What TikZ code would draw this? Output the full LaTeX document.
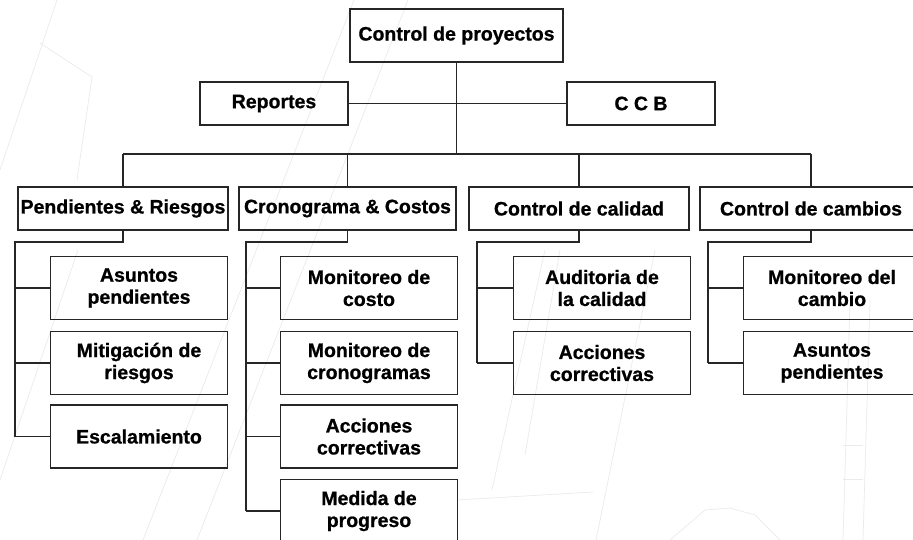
\documentclass[tikz,border=0pt]{standalone}
\usepackage{fontspec}
\setmainfont{Liberation Sans}[BoldFeatures={FakeBold=0.8}]
\usepackage{tikz}
\usetikzlibrary{calc, positioning}

\tikzset{
  box/.style={draw=black!85, line width=1.5pt, inner sep=0pt,
    align=center, font=\fontsize{19.5}{22}\selectfont\bfseries},
  topbox/.style={box, minimum width=148pt, minimum height=43pt},
  catbox/.style={box, minimum height=43pt},
  leafbox/.style={box, minimum width=177pt, minimum height=63pt},
  link/.style={draw=black!85, line width=1.5pt},
  faint/.style={draw=black!8, line width=0.7pt}
}

\begin{document}
\begin{tikzpicture}[x=1pt, y=-1pt]
    \useasboundingbox (0,0) rectangle (913,540);
    \fill[white] (0,0) rectangle (913,540);

    % faint drawing behind the chart
    \draw[faint] (0,170) -- (57,0);
    \draw[faint] (40,43) -- (92,77) -- (77,180);
    \draw[faint] (0,480) -- (78,250);
    \draw[faint] (143,540) -- (354,0);
    \draw[faint] (197,540) -- (408,0);
    \draw[faint] (457,500) -- (593,492);
    \draw[faint] (492,490) -- (545,250);
    \draw[faint] (525,455) -- (560,250);
    \draw[faint] (596,540) -- (655,250);
    \draw[faint] (843,540) -- (850,300);
    \draw[faint] (863,540) -- (870,300);
    \draw[faint] (843,445) -- (863,445);
    \draw[faint] (843,479) -- (863,479);
    \draw[faint] (670,540) -- (705,510) -- (730,508) -- (755,515) -- (780,540);

    % top level
    \node[box, minimum width=213pt, minimum height=53pt] (ctrl) at (456.5,35.5) {Control de proyectos};
    \node[topbox] (rep) at (274,103.5) {Reportes};
    \node[topbox] (ccb) at (641,103.5) {C C B};
    \coordinate (bus) at (0,154);

    % second level
    \node[catbox, minimum width=210pt] (pend) at (123,208.5) {Pendientes \& Riesgos};
    \node[catbox, minimum width=217pt] (cron) at (347.5,208.5) {Cronograma \& Costos};
    \node[catbox, minimum width=220pt] (cal) at (579,208.5) {Control de calidad};
    \node[catbox, minimum width=222pt] (camb) at (811,208.5) {Control de cambios};

    % leaves
    \node[leafbox] (pend1) at (139,288) {Asuntos\\pendientes};
    \node[leafbox] (pend2) at (139,363) {Mitigación de\\riesgos};
    \node[leafbox] (pend3) at (139,436.5) {Escalamiento};

    \node[leafbox] (cron1) at (369,288) {Monitoreo de\\costo};
    \node[leafbox] (cron2) at (369,363) {Monitoreo de\\cronogramas};
    \node[leafbox] (cron3) at (369,436.5) {Acciones\\correctivas};
    \node[leafbox] (cron4) at (369,511) {Medida de\\progreso};

    \node[leafbox] (cal1) at (602,288) {Auditoria de\\la calidad};
    \node[leafbox] (cal2) at (602,363) {Acciones\\correctivas};

    \node[leafbox] (camb1) at (832,288) {Monitoreo del\\cambio};
    \node[leafbox] (camb2) at (832,363) {Asuntos\\pendientes};

    % trunks
    \coordinate (pendv) at (15,242);
    \coordinate (cronv) at (246,242);
    \coordinate (calv) at (477,242);
    \coordinate (cambv) at (708,242);

    % connectors
    \draw[link] (ctrl.south) -- (ctrl.south |- bus);
    \draw[link] (rep.east) -- (ccb.west);
    \draw[link] (pend.north |- bus) -- (camb.north |- bus);
    \foreach \c in {pend, cron, cal, camb}
        \draw[link] (\c.north) -- (\c.north |- bus);

    \draw[link] (pend.south) |- (pendv) -- (pendv |- pend3.west);
    \foreach \l in {pend1, pend2, pend3}
        \draw[link] (pendv |- \l.west) -- (\l.west);

    \draw[link] (cron.south) |- (cronv) -- (cronv |- cron4.west);
    \foreach \l in {cron1, cron2, cron3, cron4}
        \draw[link] (cronv |- \l.west) -- (\l.west);

    \draw[link] (cal.south) |- (calv) -- (calv |- cal2.west);
    \foreach \l in {cal1, cal2}
        \draw[link] (calv |- \l.west) -- (\l.west);

    \draw[link] (camb.south) |- (cambv) -- (cambv |- camb2.west);
    \foreach \l in {camb1, camb2}
        \draw[link] (cambv |- \l.west) -- (\l.west);

\end{tikzpicture}
\end{document}
